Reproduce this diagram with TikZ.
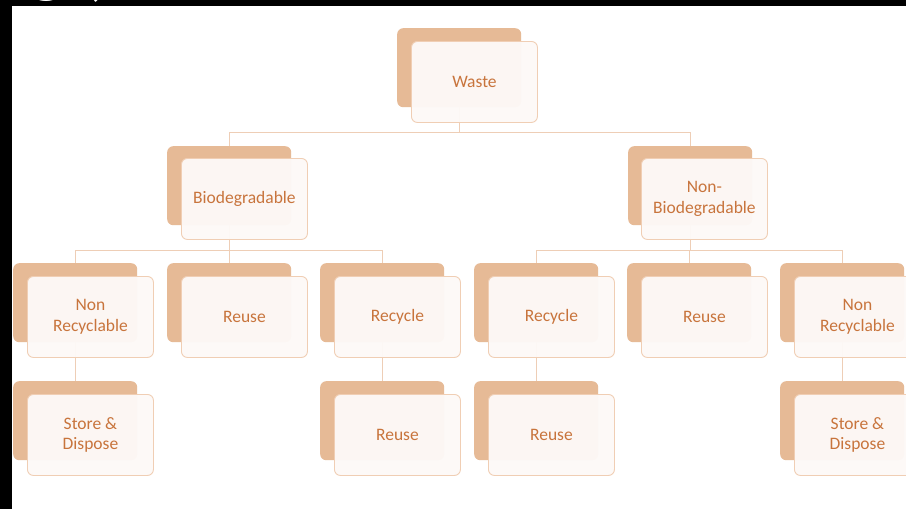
\documentclass[tikz,border=0pt]{standalone}
\usepackage{fontspec}
\setmainfont{Carlito}
\definecolor{txt}{RGB}{200,116,60}
\definecolor{backfill}{RGB}{230,186,150}
\definecolor{frontfill}{RGB}{253,249,247}
\definecolor{frontline}{RGB}{240,206,180}
\definecolor{connline}{RGB}{238,206,182}
\tikzset{
  backbox/.style={fill=backfill, draw=none, rounded corners=6pt, minimum width=124pt, minimum height=79pt, anchor=north west, inner sep=0pt},
  frontbox/.style={fill=frontfill, fill opacity=0.96, text opacity=1, draw=frontline, line width=0.9pt, rounded corners=6pt, minimum width=126pt, minimum height=81pt, anchor=north west, inner sep=0pt, align=center, text=txt, font=\fontsize{17.5}{20.5}\selectfont},
  conn/.style={draw=connline, line width=1pt}
}
\begin{document}
\begin{tikzpicture}[x=1pt,y=-1pt]
\useasboundingbox (0,0) rectangle (906,509);
\clip (0,0) rectangle (906,509);
\fill[white] (0,0) rectangle (906,509);
% back boxes
\node[backbox] (wasteB) at (397,28) {};
\node[backbox] (bioB) at (167,146) {};
\node[backbox] (nbioB) at (628,146) {};
\node[backbox] (a1B) at (13,263) {};
\node[backbox] (a2B) at (167,263) {};
\node[backbox] (a3B) at (320,263) {};
\node[backbox] (b1B) at (474,263) {};
\node[backbox] (b2B) at (627,263) {};
\node[backbox] (b3B) at (780,263) {};
\node[backbox] (c1B) at (13,381) {};
\node[backbox] (c3B) at (320,381) {};
\node[backbox] (d1B) at (474,381) {};
\node[backbox] (d3B) at (780,381) {};
% connectors
\draw[conn] (wasteB.south) -- ++(0,25) -| (bioB.north);
\draw[conn] (wasteB.south) -- ++(0,25) -| (nbioB.north);
\draw[conn] (bioB.south) -- ++(0,25) -| (a1B.north);
\draw[conn] (bioB.south) -- ++(0,25) -| (a2B.north);
\draw[conn] (bioB.south) -- ++(0,25) -| (a3B.north);
\draw[conn] (nbioB.south) -- ++(0,25) -| (b1B.north);
\draw[conn] (nbioB.south) -- ++(0,25) -| (b2B.north);
\draw[conn] (nbioB.south) -- ++(0,25) -| (b3B.north);
\draw[conn] (a1B.south) -- (c1B.north);
\draw[conn] (a3B.south) -- (c3B.north);
\draw[conn] (b1B.south) -- (d1B.north);
\draw[conn] (b3B.south) -- (d3B.north);
% front boxes
\node[frontbox] (waste) at (411,41) {Waste};
\node[frontbox] (bio) at (181,158) {Biodegradable};
\node[frontbox] (nbio) at (641,158) {Non-\\Biodegradable};
\node[frontbox] (a1) at (27,276) {Non\\Recyclable};
\node[frontbox] (a2) at (181,276) {Reuse};
\node[frontbox] (a3) at (334,276) {Recycle};
\node[frontbox] (b1) at (488,276) {Recycle};
\node[frontbox] (b2) at (641,276) {Reuse};
\node[frontbox] (b3) at (794,276) {Non\\Recyclable};
\node[frontbox] (c1) at (27,394) {Store \&\\Dispose};
\node[frontbox] (c3) at (334,394) {Reuse};
\node[frontbox] (d1) at (488,394) {Reuse};
\node[frontbox] (d3) at (794,394) {Store \&\\Dispose};
% black frame
\fill[black] (0,0) rectangle (906,6);
\fill[black] (0,0) rectangle (12,509);
\begin{scope}
\clip (0,0) rectangle (906,6);
\node[white, anchor=base, inner sep=0pt, font=\fontsize{70}{70}\selectfont] (frag1) at (47,-11) {g};
\node[white, anchor=base, inner sep=0pt, font=\fontsize{70}{70}\selectfont] (frag2) at (98,-7) {,};
\end{scope}
\end{tikzpicture}
\end{document}
